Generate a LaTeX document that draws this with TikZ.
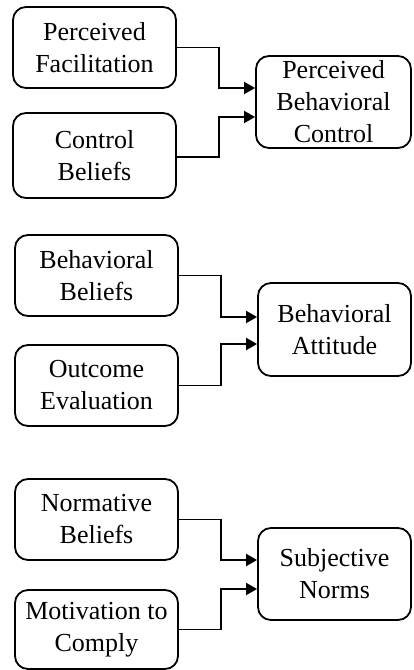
\documentclass[tikz,border=0pt]{standalone}
\usepackage{fontspec}
\setmainfont{Liberation Serif}
\usetikzlibrary{arrows.meta}
\tikzset{
  box/.style={draw=black, line width=1.8pt, rounded corners=13pt, fill=white,
    align=center, inner sep=0pt, font=\fontsize{26}{32}\selectfont},
  arr/.style={draw=black, line width=1.8pt, -{Triangle[length=11pt,width=12pt]}}
}
\begin{document}
\begin{tikzpicture}[x=1pt,y=-1pt]
\useasboundingbox (0,0) rectangle (413,670);
% top group
\node[box, minimum width=163pt, minimum height=81pt] (pf) at (94.5,47.5) {Perceived\\Facilitation};
\node[box, minimum width=163pt, minimum height=85pt] (cb) at (94.5,155.5) {Control\\Beliefs};
\node[box, minimum width=155pt, minimum height=92pt] (pbc) at (333.5,102) {Perceived\\Behavioral\\Control};
\draw[arr] (pf.east) -- ++(42,0) |- ([yshift=14pt]pbc.west);
\draw[arr] (cb.east) ++(0,1.5) -- ++(42,0) |- ([yshift=-15pt]pbc.west);
% middle group
\node[box, minimum width=163pt, minimum height=81pt] (bb) at (96.5,275.5) {Behavioral\\Beliefs};
\node[box, minimum width=163pt, minimum height=81pt] (oe) at (96.5,385.5) {Outcome\\Evaluation};
\node[box, minimum width=153pt, minimum height=93pt] (ba) at (334.5,329.5) {Behavioral\\Attitude};
\draw[arr] (bb.east) -- ++(42,0) |- ([yshift=12.5pt]ba.west);
\draw[arr] (oe.east) -- ++(42,0) |- ([yshift=-14.5pt]ba.west);
% bottom group
\node[box, minimum width=163pt, minimum height=81pt] (nb) at (96.5,519.5) {Normative\\Beliefs};
\node[box, minimum width=163pt, minimum height=79pt] (mc) at (96.5,629.5) {Motivation to\\Comply};
\node[box, minimum width=153pt, minimum height=92pt] (sn) at (334.5,574) {Subjective\\Norms};
\draw[arr] (nb.east) -- ++(42,0) |- ([yshift=14pt]sn.west);
\draw[arr] (mc.east) -- ++(42,0) |- ([yshift=-15pt]sn.west);
\end{tikzpicture}
\end{document}
